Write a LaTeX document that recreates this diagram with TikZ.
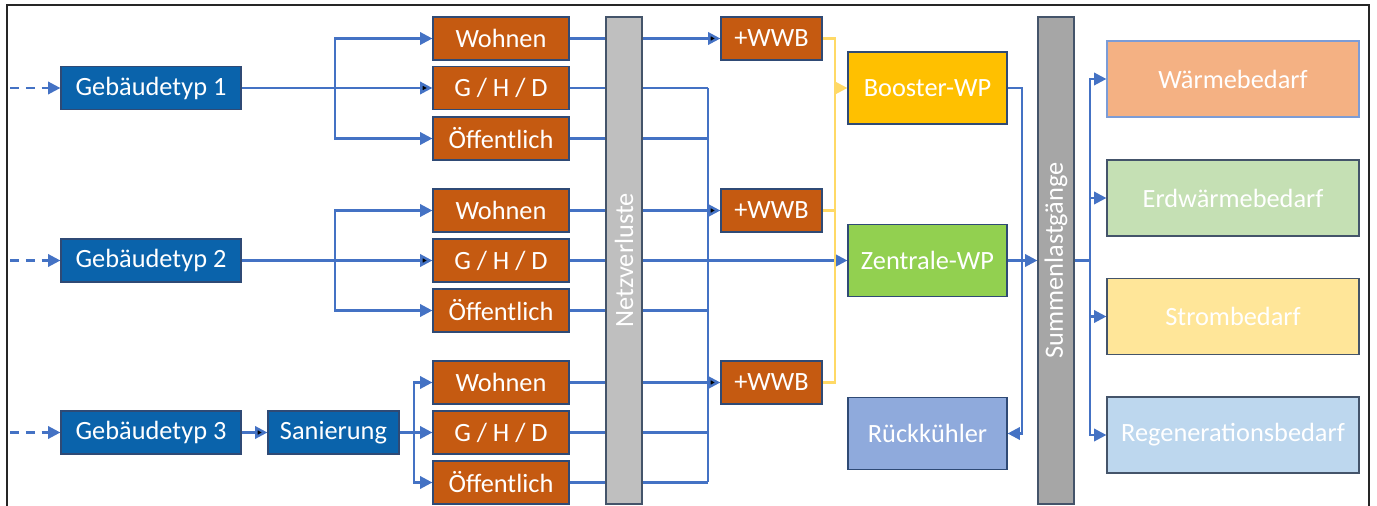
\documentclass[tikz,border=0pt]{standalone}
\usepackage{fontspec}
\setmainfont{Carlito}
\usetikzlibrary{positioning,arrows.meta,backgrounds}
\definecolor{blau}{HTML}{0A63AB}
\definecolor{orange}{HTML}{C55A11}
\definecolor{linie}{HTML}{4472C4}
\definecolor{gelblinie}{HTML}{FFD966}
\definecolor{rand}{HTML}{2F4A75}
\definecolor{balkenrand}{HTML}{44546A}
\definecolor{booster}{HTML}{FFC000}
\definecolor{zentrale}{HTML}{92D050}
\definecolor{rueck}{HTML}{8FAADC}
\definecolor{waerme}{HTML}{F4B183}
\definecolor{erdwaerme}{HTML}{C5E0B4}
\definecolor{strom}{HTML}{FFE699}
\definecolor{regen}{HTML}{BDD7EE}
\tikzset{
	box/.style = {rectangle, draw=rand, line width=0.7pt, text=white,
	 inner sep=0pt, font=\fontsize{15}{18}\selectfont},
	typ/.style = {box, fill=blau, minimum width=3.6cm, minimum height=0.86cm},
	sektor/.style = {box, fill=orange, minimum width=2.72cm, minimum height=0.86cm},
	wwb/.style = {box, fill=orange, minimum width=2.02cm, minimum height=0.86cm},
	wp/.style = {box, minimum width=3.18cm, minimum height=1.44cm},
	bedarf/.style = {box, draw=balkenrand, minimum width=5.04cm, minimum height=1.52cm},
	balken/.style = {box, draw=balkenrand, rotate=90,
	 minimum width=9.74cm, minimum height=0.72cm},
	leit/.style = {draw=linie, line width=1.4pt},
	spitze/.style = {-{Triangle[length=7pt,width=7pt]}},
	flow/.style = {leit, spitze},
	gelb/.style = {draw=gelblinie, line width=1.4pt},
	rahmen/.style = {draw=black!85, line width=1.3pt},
}
\begin{document}
\begin{tikzpicture}[x=0.02cm, y=-0.02cm]
	\useasboundingbox (0,0) rectangle (1377,506);
	\draw[rahmen] (7,506) -- (7,5) -- (1369,5) -- (1369,506);

	% Gebaeudetypen
	\node (g1) [typ] at (151,88) {Gebäudetyp 1};
	\node (g2) [typ] at (151,260.5) {Gebäudetyp 2};
	\node (g3) [typ] at (151,432.5) {Gebäudetyp 3};
	\node (san) [box, fill=blau, minimum width=2.62cm, minimum height=0.86cm]
	 at (333.5,432.5) {Sanierung};
	\coordinate (s1) at (10,88);
	\coordinate (s2) at (10,260.5);
	\coordinate (s3) at (10,432.5);

	% Sektoren
	\node (w1) [sektor] at (501,38.5) {Wohnen};
	\node (gh1) [sektor] at (501,88) {G / H / D};
	\node (f1) [sektor] at (501,138.5) {Öffentlich};
	\node (w2) [sektor] at (501,210.5) {Wohnen};
	\node (gh2) [sektor] at (501,260.5) {G / H / D};
	\node (f2) [sektor] at (501,310.5) {Öffentlich};
	\node (w3) [sektor] at (501,382.5) {Wohnen};
	\node (gh3) [sektor] at (501,432.5) {G / H / D};
	\node (f3) [sektor] at (501,482.5) {Öffentlich};

	\node (nv) [balken, fill=black!25] at (624,260.5) {Netzverluste};

	\node (x1) [wwb] at (771.5,38.5) {+WWB};
	\node (x2) [wwb] at (771.5,210.5) {+WWB};
	\node (x3) [wwb] at (771.5,382.5) {+WWB};

	% Waermepumpen
	\node (bo) [wp, fill=booster] at (927.5,88) {Booster-WP};
	\node (zw) [wp, fill=zentrale] at (927.5,260.5) {Zentrale-WP};
	\node (rk) [wp, fill=rueck] at (927.5,433.5) {Rückkühler};

	\node (su) [balken, fill=black!35] at (1056,260.5) {Summenlastgänge};

	% Bedarfe
	\node (wb) [bedarf, fill=waerme, draw=linie!70] at (1233,79) {Wärmebedarf};
	\node (eb) [bedarf, fill=erdwaerme] at (1233,198) {Erdwärmebedarf};
	\node (sb) [bedarf, fill=strom] at (1233,316.5) {Strombedarf};
	\node (rb) [bedarf, fill=regen] at (1233,435) {Regenerationsbedarf};

	\coordinate (b1) at (335,88);
	\coordinate (b2) at (335,260.5);
	\coordinate (b3) at (414,432.5);
	\coordinate (ct) at (708,88);
	\coordinate (cb) at (708,482.5);
	\coordinate (y1) at (835,38.5);
	\coordinate (y3) at (835,382.5);
	\coordinate (r1) at (1022,88);
	\coordinate (d1) at (1090,260.5);

	\begin{scope}[on background layer]
		\draw[flow, dash pattern=on 5pt off 4pt] (s1) -- (g1);
		\draw[flow, dash pattern=on 5pt off 4pt] (s2) -- (g2);
		\draw[flow, dash pattern=on 5pt off 4pt] (s3) -- (g3);
		\path[flow] (g1) edge (gh1) (g2) edge (gh2) (g3) edge (san);
		\draw[flow] (b1) |- (w1);
		\draw[flow] (b1) |- (f1);
		\draw[flow] (b2) |- (w2);
		\draw[flow] (b2) |- (f2);
		\draw[flow] (san) -- (gh3);
		\draw[flow] (b3) |- (w3);
		\draw[flow] (b3) |- (f3);
		% durch die Netzverluste
		\path[flow] (w1) edge (x1) (w2) edge (x2) (w3) edge (x3);
		\draw[leit] (ct) -- (cb);
		\draw[leit] (gh1) -- (gh1 -| ct);
		\draw[leit] (f1) -- (f1 -| ct);
		\draw[leit] (f2) -- (f2 -| ct);
		\draw[leit] (gh3) -- (gh3 -| ct);
		\draw[leit] (f3) -- (f3 -| ct);
		\draw[flow] (gh2) -- (zw);
		% Warmwasser
		\draw[gelb] (x1) -- (y1) -- (y3) -- (x3);
		\draw[gelb] (x2) -- (x2 -| y1);
		\draw[gelb, spitze] (bo -| y1) -- (bo);
		\draw[flow] (bo) -- (r1) |- (rk);
		\draw[flow] (zw) -- (su);
		\draw[leit] (su) -- (d1);
		\draw[flow] (d1) |- (wb);
		\draw[flow] (d1) |- (eb);
		\draw[flow] (d1) |- (sb);
		\draw[flow] (d1) |- (rb);
	\end{scope}
\end{tikzpicture}
\end{document}
